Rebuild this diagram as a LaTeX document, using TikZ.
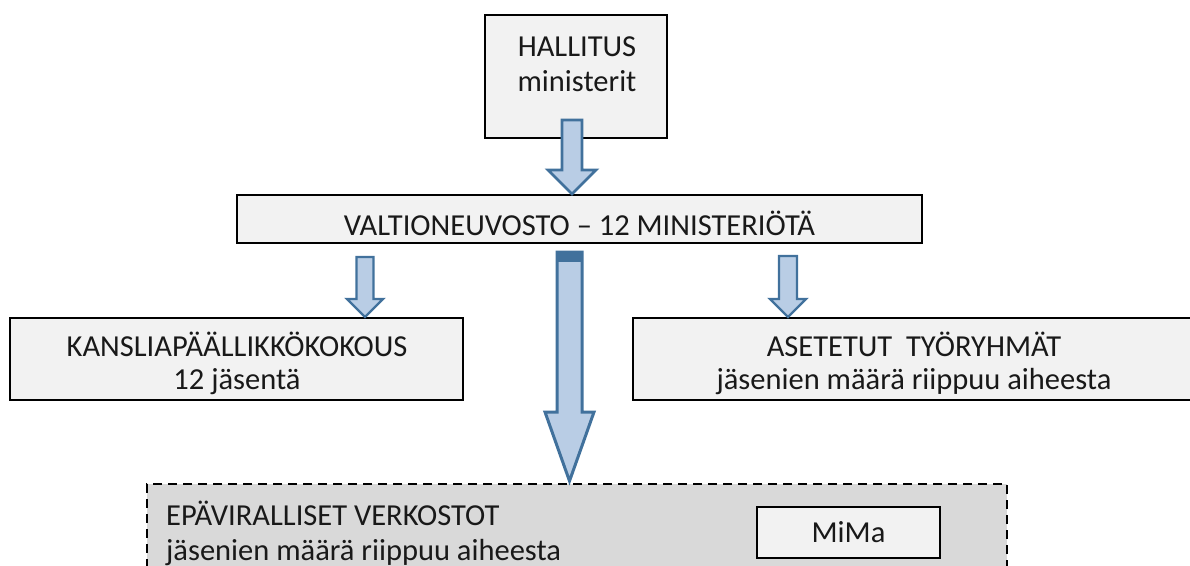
\documentclass[tikz,border=0pt]{standalone}
\usepackage{fontspec}
\setmainfont{Carlito}
\usetikzlibrary{calc}
\definecolor{boxfill}{HTML}{F2F2F2}
\definecolor{netfill}{HTML}{D9D9D9}
\definecolor{arrfill}{HTML}{B9CDE5}
\definecolor{arrline}{HTML}{41719C}
\newcommand\blockarrow[6]{%
  \filldraw[barrow,line width=#6] let \p1=(#1), \p2=(#2) in
   (\x1-#3pt,\y1) -- (\x1+#3pt,\y1) -- (\x1+#3pt,\y2+#5pt) -- (\x1+#4pt,\y2+#5pt)
   -- (\x1,\y2) -- (\x1-#4pt,\y2+#5pt) -- (\x1-#3pt,\y2+#5pt) -- cycle;}
\begin{document}
\begin{tikzpicture}[x=1pt,y=-1pt,
  txt/.style={font=\fontsize{30.5}{33}\selectfont, text=black!90, inner sep=0pt},
  obox/.style={draw=black, line width=2pt, fill=boxfill, inner sep=0pt},
  netbox/.style={draw=black, line width=2pt, fill=netfill, dash pattern=on 9pt off 6pt, inner sep=0pt},
  barrow/.style={draw=arrline, fill=arrfill, line join=miter}]
\useasboundingbox (0,0) rectangle (1190,565);
% boxes
\node[obox, minimum width=182, minimum height=123] (hall) at (576,76.5) {};
\node[txt, align=center, font=\fontsize{30.5}{35}\selectfont] (hallt) at (577,64) {HALLITUS\\ministerit};
\node[obox, minimum width=685, minimum height=48] (valt) at (579.5,219) {};
\node[txt] (valtt) at (579.5,223) {VALTIONEUVOSTO – 12 MINISTERIÖTÄ};
\node[obox, minimum width=453, minimum height=82] (kans) at (236.5,359) {};
\node[txt, align=center] (kanst) at (237,363) {KANSLIAPÄÄLLIKKÖKOKOUS\\12 jäsentä};
\node[obox, minimum width=560, minimum height=82] (aset) at (913,359) {};
\node[txt, align=center] (asett) at (914,363) {ASETETUT \ TYÖRYHMÄT\\jäsenien määrä riippuu aiheesta};
\node[netbox, minimum width=860, minimum height=110] (net) at (577,539) {};
\node[txt, align=left, anchor=west, font=\fontsize{30.5}{35}\selectfont] (nett) at (166,533) {EPÄVIRALLISET VERKOSTOT\\jäsenien määrä riippuu aiheesta};
\node[obox, minimum width=183, minimum height=51] (mima) at (848.5,532.5) {};
\node[txt] (mimat) at (mima) {MiMa};
% arrows
\coordinate (a1s) at (572,120);
\coordinate (a1t) at (a1s |- valt.north);
\blockarrow{a1s}{a1t}{10}{24}{24}{2.8pt}
\coordinate (a2s) at (365,257);
\coordinate (a2t) at (a2s |- kans.north);
\blockarrow{a2s}{a2t}{8.5}{18}{18}{2.3pt}
\coordinate (a3s) at (788,256);
\coordinate (a3t) at (a3s |- aset.north);
\blockarrow{a3s}{a3t}{9}{18}{18}{2.3pt}
\coordinate (a4s) at (569.5,252);
\coordinate (a4t) at ($(a4s |- net.north)+(0,-2)$);
\blockarrow{a4s}{a4t}{12.5}{24.5}{69}{3pt}
\fill[arrline] (557,251) rectangle (582,262);
\end{tikzpicture}
\end{document}
